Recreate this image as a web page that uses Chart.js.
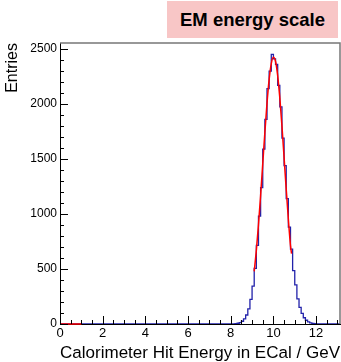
<!DOCTYPE html>
<html>
<head>
<meta charset="utf-8">
<script src="https://cdn.jsdelivr.net/npm/chart.js@4.4.1/dist/chart.umd.min.js"></script>
<style>
  body { margin: 0; background: #fff; }
  #wrap { position: relative; width: 341px; height: 362px; }
  #title {
    position: absolute; left: 167px; top: 1px; width: 171px; height: 37px;
    background: #f8c6c6; font: bold 18.5px "Liberation Sans", Arial, sans-serif;
    color: #000; text-align: center; line-height: 37px;
  }
</style>
</head>
<body>
<div id="wrap">
  <canvas id="histo" width="341" height="362"></canvas>
  <div id="title">EM energy scale</div>
</div>
<script>
// --- Data ---
const X_MIN = 0, X_MAX = 13.12;
const Y_MIN = 0, Y_MAX = 2555;
const X_TICKS = [0, 2, 4, 6, 8, 10, 12];
const Y_TICKS = [0, 500, 1000, 1500, 2000, 2500];

// histogram: 0.1 GeV bins starting at 8.1 GeV
const binStart = 8.1;
const binWidth = 0.1;
const counts = [
  1, 3, 7, 13, 25, 47, 82, 138, 223, 344,
  505, 715, 980, 1240, 1590, 1860, 2140, 2300, 2452, 2410,
  2360, 2170, 1975, 1690, 1440, 1140, 880, 680, 485, 355,
  228, 152, 96, 57, 34, 19, 10, 6, 3, 1
];

// gaussian fit curve as drawn (red)
const fitX = [9.1, 9.2, 9.3, 9.4, 9.5, 9.6, 9.7, 9.8, 9.9, 10.0,
              10.1, 10.2, 10.3, 10.4, 10.5, 10.6, 10.7, 10.8, 10.85];
const fitY = [478, 670, 903, 1169, 1456, 1744, 2008, 2224, 2368, 2425,
              2387, 2259, 2056, 1800, 1514, 1226, 953, 713, 640];
// short red stub along zero near the origin
const fitLowX = [0, 1];
const fitLowY = [0, 0];

// --- Build datasets ---
function histoPoints() {
  const pts = [{ x: X_MIN, y: 0 }, { x: binStart, y: 0 }];
  counts.forEach((c, i) => pts.push({ x: binStart + i * binWidth, y: c }));
  pts.push({ x: binStart + counts.length * binWidth, y: 0 });
  pts.push({ x: X_MAX, y: 0 });
  return pts;
}

const zip = (xs, ys) => xs.map((x, i) => ({ x, y: ys[i] }));

// ROOT-style inner ticks + grey frame
const rootFrame = {
  id: "rootFrame",
  afterDraw(chart) {
    const { ctx, chartArea: a, scales: { x, y } } = chart;
    ctx.save();
    ctx.strokeStyle = "#777";
    ctx.lineWidth = 1.5;
    ctx.beginPath();
    ctx.moveTo(a.left, a.top);
    ctx.lineTo(a.right, a.top);
    ctx.lineTo(a.right, a.bottom);
    ctx.stroke();

    ctx.strokeStyle = "#000";
    ctx.lineWidth = 1;
    ctx.beginPath();
    for (let i = 0; i * 0.5 <= X_MAX; i++) {
      const px = Math.round(x.getPixelForValue(i * 0.5)) + 0.5;
      const len = i % 4 === 0 ? 8 : 4;
      ctx.moveTo(px, a.bottom);
      ctx.lineTo(px, a.bottom - len);
    }
    for (let i = 0; i * 100 <= Y_MAX; i++) {
      const py = Math.round(y.getPixelForValue(i * 100)) + 0.5;
      const len = i % 5 === 0 ? 8 : 4;
      ctx.moveTo(a.left, py);
      ctx.lineTo(a.left + len, py);
    }
    ctx.stroke();
    ctx.restore();
  }
};

const FONT = "'Liberation Sans', Arial, Helvetica, sans-serif";

new Chart(document.getElementById("histo"), {
  type: "line",
  data: {
    datasets: [
      {
        data: zip(fitX, fitY),
        borderColor: "#ff0000",
        borderWidth: 1.5,
        pointRadius: 0,
        tension: 0.4,
        cubicInterpolationMode: "monotone",
        order: 0
      },
      {
        data: zip(fitLowX, fitLowY),
        borderColor: "#ff0000",
        borderWidth: 1.5,
        pointRadius: 0,
        clip: false,
        order: 0
      },
      {
        data: histoPoints(),
        borderColor: "#2222aa",
        borderWidth: 1.3,
        pointRadius: 0,
        stepped: "before",
        order: 1
      }
    ]
  },
  options: {
    responsive: false,
    animation: false,
    layout: { padding: { top: 43, right: 1, left: 0, bottom: 0 } },
    plugins: { legend: { display: false }, tooltip: { enabled: false } },
    scales: {
      x: {
        type: "linear",
        min: X_MIN,
        max: X_MAX,
        afterFit: s => { s.height = 38; },
        afterBuildTicks: s => { s.ticks = X_TICKS.map(v => ({ value: v })); },
        grid: { drawOnChartArea: false, drawTicks: false },
        border: { color: "#000", width: 1 },
        ticks: {
          color: "#000", padding: 2, maxRotation: 0,
          font: { family: FONT, size: 13 },
          callback: v => String(v)
        },
        title: {
          display: true,
          text: "Calorimeter Hit Energy in ECal / GeV",
          align: "end",
          color: "#000",
          font: { family: FONT, size: 17.2, lineHeight: 1 },
          padding: { top: 0, bottom: 0.5 }
        }
      },
      y: {
        type: "linear",
        min: Y_MIN,
        max: Y_MAX,
        afterFit: s => { s.width = 60; },
        afterBuildTicks: s => { s.ticks = Y_TICKS.map(v => ({ value: v })); },
        grid: { drawOnChartArea: false, drawTicks: false },
        border: { color: "#000", width: 1 },
        ticks: {
          color: "#000", padding: 3,
          font: { family: FONT, size: 12 },
          callback: v => String(v)
        },
        title: {
          display: true,
          text: "Entries",
          align: "end",
          color: "#000",
          font: { family: FONT, size: 16, lineHeight: 1 },
          padding: { top: 5, bottom: 0 }
        }
      }
    }
  },
  plugins: [rootFrame]
});
</script>
</body>
</html>
